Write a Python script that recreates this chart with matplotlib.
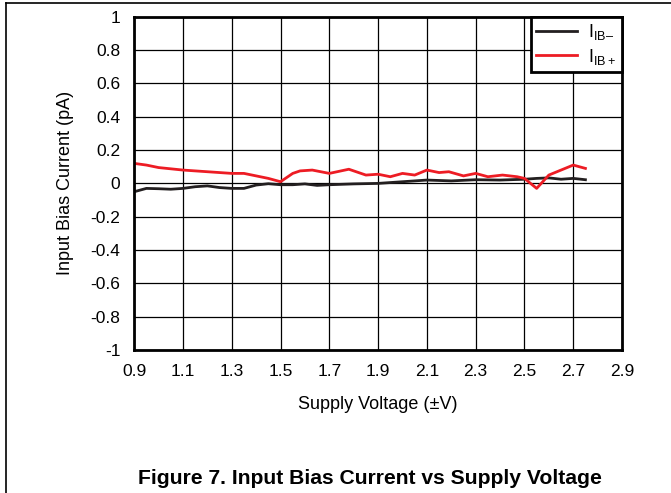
import matplotlib
matplotlib.use("Agg")
import matplotlib.pyplot as plt
from matplotlib.lines import Line2D

plt.rcParams['font.family'] = ['Liberation Sans', 'DejaVu Sans']
plt.rcParams['mathtext.fontset'] = 'custom'
plt.rcParams['mathtext.rm'] = 'Liberation Sans'

# I_IB- (black)
v_neg = [0.9, 0.95, 1.0, 1.05, 1.1, 1.15, 1.2, 1.25, 1.3, 1.35, 1.4, 1.45,
         1.5, 1.55, 1.6, 1.65, 1.7, 1.8, 1.9, 2.0, 2.1, 2.2, 2.3, 2.4, 2.5,
         2.55, 2.6, 2.65, 2.7, 2.75]
i_neg = [-0.05, -0.03, -0.032, -0.035, -0.03, -0.02, -0.015, -0.025, -0.03,
         -0.03, -0.01, -0.002, -0.008, -0.008, -0.003, -0.012, -0.008, -0.003,
         0.0, 0.01, 0.02, 0.015, 0.022, 0.02, 0.025, 0.03, 0.033, 0.025, 0.03,
         0.022]

# I_IB+ (red)
v_pos = [0.9, 0.95, 1.0, 1.1, 1.2, 1.3, 1.35, 1.4, 1.45, 1.5, 1.55, 1.58,
         1.63, 1.7, 1.78, 1.85, 1.9, 1.95, 2.0, 2.05, 2.1, 2.15, 2.19, 2.25,
         2.3, 2.35, 2.41, 2.47, 2.5, 2.55, 2.6, 2.65, 2.7, 2.75]
i_pos = [0.12, 0.11, 0.095, 0.08, 0.07, 0.06, 0.06, 0.045, 0.03, 0.01, 0.06,
         0.075, 0.08, 0.06, 0.085, 0.05, 0.055, 0.04, 0.06, 0.05, 0.08, 0.065,
         0.07, 0.045, 0.06, 0.04, 0.05, 0.04, 0.03, -0.03, 0.05, 0.08, 0.11,
         0.09]

xticks = [0.9, 1.1, 1.3, 1.5, 1.7, 1.9, 2.1, 2.3, 2.5, 2.7, 2.9]
yticks = [-1, -0.8, -0.6, -0.4, -0.2, 0, 0.2, 0.4, 0.6, 0.8, 1]

fig = plt.figure(figsize=(6.71, 4.93), dpi=100)
ax = fig.add_axes([0.2, 0.29, 0.727, 0.676])

ax.plot(v_neg, i_neg, color='#231f20', linewidth=2, label=r'$\mathregular{I_{IB–}}$')
ax.plot(v_pos, i_pos, color='#ed1c24', linewidth=2, label=r'$\mathregular{I_{IB+}}$')

ax.set_xlim(0.9, 2.9)
ax.set_ylim(-1, 1)
ax.set_xticks(xticks)
ax.set_xticklabels([f'{t:.1f}' for t in xticks])
ax.set_yticks(yticks)
ax.set_yticklabels(['-1', '-0.8', '-0.6', '-0.4', '-0.2', '0', '0.2', '0.4',
                    '0.6', '0.8', '1'])
ax.tick_params(length=0, labelsize=12.5, pad=10)
ax.grid(True, color='black', linewidth=0.9)
for s in ax.spines.values():
    s.set_linewidth(2)

ax.set_xlabel('Supply Voltage (±V)', fontsize=13, labelpad=12)
ax.set_ylabel('Input Bias Current (pA)', fontsize=13, labelpad=12)

leg = ax.legend(loc='upper right', borderaxespad=0, fancybox=False,
                framealpha=1, edgecolor='black', fontsize=13,
                handlelength=2.3, handletextpad=0.6, borderpad=0.3,
                labelspacing=0.25)
leg.get_frame().set_linewidth(2)

fig.text(0.552, 0.03, 'Figure 7. Input Bias Current vs Supply Voltage',
         ha='center', va='center', fontsize=15.2, fontweight='bold')

# page frame lines
fig.add_artist(Line2D([0.009, 1], [0.994, 0.994], color='black', linewidth=1.2))
fig.add_artist(Line2D([0.009, 0.009], [0, 0.994], color='black', linewidth=1.2))

fig.savefig('out.png', dpi=100)
